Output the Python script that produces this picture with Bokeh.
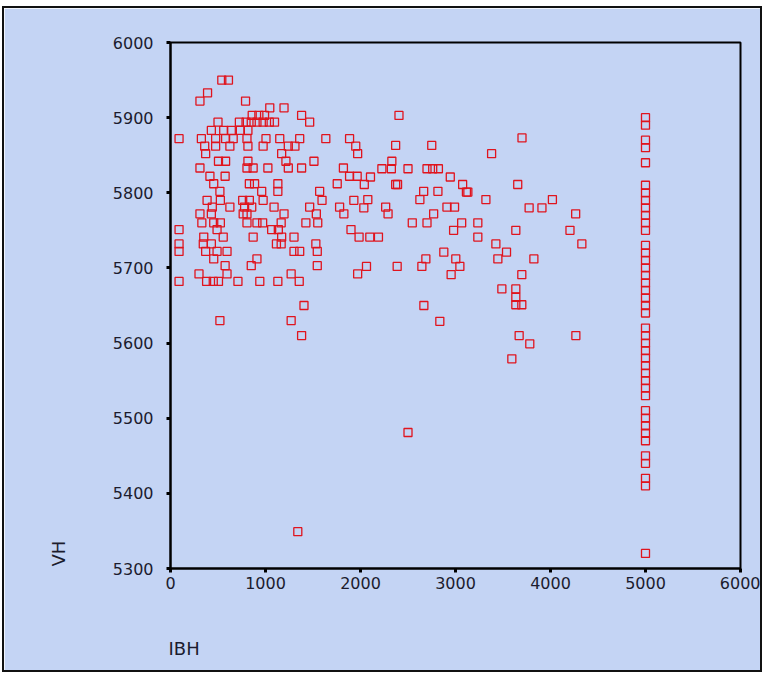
from bokeh.plotting import figure
from bokeh.models import Range1d, FixedTicker, Title, ColumnDataSource, LinearAxis
from bokeh.embed import file_html
from bokeh.resources import INLINE

# ---- data ----
ibh_left = [540, 610, 390, 310, 790, 1045, 1195,
            1380, 860, 930, 990,
            1465, 500, 725, 795, 850, 910, 975, 1040, 1095,
            430, 560, 640, 735, 815,
            90, 325, 475, 580, 660, 805, 1005, 1150, 1360, 1635, 1885,
            360, 475, 625, 815, 975, 1240, 1310, 1950,
            370, 1170, 1970,
            505, 580, 815, 1215, 1510,
            310, 805, 870, 1025, 1240, 1380, 1820,
            415, 575, 1885, 1965, 2105,
            455, 830, 885, 1130, 1755, 2040,
            520, 960, 1130, 1570,
            385, 525, 760, 830, 975, 1595, 1930, 2077,
            440, 625, 780, 855, 1090, 1465, 1780,
            310, 430, 765, 805, 1195, 1535, 1825,
            330, 455, 525, 805, 910, 970, 1165, 1425, 1550,
            90, 490, 1065, 1135, 1900,
            350, 555, 870, 1170, 1300, 1985, 2098, 2189,
            90, 345, 430, 1115, 1165, 1530,
            90, 370, 490, 595, 1300, 1360, 1545,
            455, 910,
            575, 850, 1545, 2063,
            300, 595, 1270, 1970,
            90, 380, 450, 505, 710, 940, 1130, 1355,
            1405, 520, 1270, 1380, 1340]
vh_left = [5950, 5950, 5933, 5922, 5922, 5913, 5913,
           5903, 5903, 5903, 5903,
           5894, 5894, 5894, 5894, 5894, 5894, 5894, 5894, 5894,
           5883, 5883, 5883, 5883, 5883,
           5872, 5872, 5872, 5872, 5872, 5872, 5872, 5872, 5872, 5872, 5872,
           5862, 5862, 5862, 5862, 5862, 5862, 5862, 5862,
           5852, 5852, 5852,
           5842, 5842, 5842, 5842, 5842,
           5833, 5833, 5833, 5833, 5833, 5833, 5833,
           5822, 5822, 5822, 5822, 5821,
           5812, 5812, 5812, 5812, 5812, 5811,
           5802, 5802, 5802, 5802,
           5790, 5790, 5790, 5790, 5790, 5790, 5790, 5791,
           5781, 5781, 5781, 5781, 5781, 5781, 5781,
           5772, 5772, 5772, 5772, 5772, 5772, 5772,
           5760, 5760, 5760, 5760, 5760, 5760, 5760, 5760, 5760,
           5751, 5751, 5751, 5751, 5751,
           5741, 5741, 5741, 5741, 5741, 5741, 5741, 5741,
           5732, 5732, 5732, 5732, 5732, 5732,
           5722, 5722, 5722, 5722, 5722, 5722, 5722,
           5712, 5712,
           5703, 5703, 5703, 5702,
           5692, 5692, 5692, 5692,
           5682, 5682, 5682, 5682, 5682, 5682, 5682, 5682,
           5650, 5630, 5630, 5610, 5349]

ibh_right = [2405, 2370, 2750, 3700, 3380,
             2225, 2325, 2330, 2500, 2700, 2760, 2820,
             2370, 2390, 2945, 3075, 3115, 3130, 3655,
             2665, 2815, 2625, 2035, 3320,
             2265, 2290, 2910, 2990, 3775, 3910, 4020, 4265,
             2545, 2700, 2770, 3065, 3235,
             2980, 3235, 3635, 4205, 4330,
             3425, 3537, 3446, 3825,
             2877, 3003, 3046, 2688, 2646, 2954, 2386, 3698,
             3488, 3635, 3635, 3635, 3698, 2667, 2835,
             3670, 3782, 4267, 3593, 2500]
vh_right = [5903, 5863, 5863, 5873, 5852,
            5832, 5832, 5842, 5832, 5832, 5832, 5832,
            5811, 5811, 5821, 5811, 5801, 5801, 5811,
            5802, 5802, 5791, 5780, 5791,
            5781, 5772, 5781, 5781, 5780, 5780, 5791, 5772,
            5760, 5760, 5772, 5760, 5760,
            5750, 5741, 5750, 5750, 5732,
            5732, 5721, 5712, 5712,
            5721, 5712, 5702, 5712, 5702, 5691, 5702, 5691,
            5672, 5672, 5661, 5651, 5651, 5650, 5629,
            5610, 5599, 5610, 5579, 5481]

vh_5000 = [5900, 5890, 5870, 5860, 5840,
           5810, 5800, 5790, 5780, 5770, 5760, 5750,
           5730, 5720, 5710, 5700, 5690, 5680, 5670, 5660, 5650, 5640,
           5620, 5610, 5600, 5590, 5580, 5570, 5560, 5550, 5540, 5530,
           5510, 5500, 5490, 5480, 5470,
           5450, 5440, 5420, 5410, 5320]
ibh_5000 = [5000] * len(vh_5000)

x_ticks = [0, 1000, 2000, 3000, 4000, 5000, 6000]
y_ticks = [5300, 5400, 5500, 5600, 5700, 5800, 5900, 6000]

ibh = ibh_left + ibh_right + ibh_5000
vh = vh_left + vh_right + vh_5000

BG = "#C4D4F4"
TXT = "#1c1c2e"
FONT = "DejaVu Sans"

p = figure(width=760, height=666, output_backend="svg", toolbar_location=None,
           x_range=Range1d(0, 6000), y_range=Range1d(5300, 6000),
           min_border_left=166, min_border_right=24,
           min_border_top=34, min_border_bottom=106)
p.background_fill_color = BG
p.border_fill_color = BG
p.outline_line_color = "black"
p.outline_line_width = 2
p.grid.visible = False
p.styles = {"border": "2px solid #111111", "margin-left": "2px", "margin-top": "6px"}

for ax, ticks in ((p.xaxis, x_ticks), (p.yaxis, y_ticks)):
    ax.ticker = FixedTicker(ticks=ticks)
    ax.minor_tick_line_color = None
    ax.major_tick_in = 0
    ax.major_tick_out = 4
    ax.major_tick_line_width = 3
    ax.major_tick_line_color = "black"
    ax.axis_line_width = 2
    ax.axis_line_color = "black"
    ax.major_label_text_font = FONT
    ax.major_label_text_font_size = "16px"
    ax.major_label_text_color = TXT
p.xaxis.major_label_standoff = 4
p.yaxis.major_label_standoff = 13

src = ColumnDataSource(dict(ibh=ibh, vh=vh))
p.scatter("ibh", "vh", source=src, marker="square", size=8,
          fill_color=None, line_color="#E0141E", line_width=1.3)

# invisible spacer between the x axis and its label (label sits low, as in the original)
spacer = LinearAxis(ticker=FixedTicker(ticks=[0]), major_label_overrides={0: ""},
                    major_tick_out=44, major_tick_in=0,
                    axis_line_color=None, major_tick_line_color=None,
                    minor_tick_line_color=None, major_label_standoff=0,
                    major_label_text_font_size="1px", major_label_text_alpha=0)
p.add_layout(spacer, "below")
p.add_layout(Title(text="IBH", align="left", offset=-2, standoff=0,
                   text_font=FONT, text_font_size="18px",
                   text_font_style="normal", text_color=TXT), "below")
p.add_layout(Title(text="VH", align="left", offset=2, standoff=81,
                   text_font=FONT, text_font_size="18px",
                   text_font_style="normal", text_color=TXT), "left")

open("out.html", "w").write(file_html(p, INLINE))
